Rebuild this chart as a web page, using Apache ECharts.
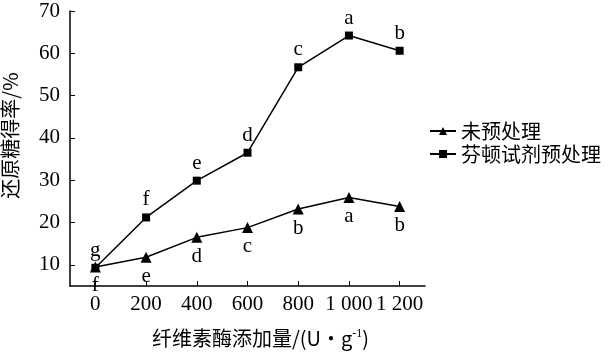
<!DOCTYPE html>
<html>
<head>
<meta charset="utf-8">
<script src="https://cdn.jsdelivr.net/npm/echarts@6/dist/echarts.min.js"></script>
<style>
  html, body { margin: 0; padding: 0; background: #fff; }
  #chart { width: 609px; height: 354px; }
</style>
</head>
<body>
<div id="chart"></div>
<script>
const doses = [0, 200, 400, 600, 800, 1000, 1200];
const untreated = [9.5, 11.8, 16.5, 18.8, 23.2, 25.9, 23.8];
const fenton = [9.3, 21.2, 29.9, 36.5, 56.7, 64.2, 60.6];
const untreatedLetters = ['f', 'e', 'd', 'c', 'b', 'a', 'b'];
const fentonLetters = ['g', 'f', 'e', 'd', 'c', 'a', 'b'];
const yTicks = [10, 20, 30, 40, 50, 60, 70];

const serif = '"Liberation Serif", "Times New Roman", serif';
const cjk = '"Noto Sans CJK SC", serif';

// 千位用空格分隔，如 1 000
const fmtDose = v => v >= 1000 ? Math.floor(v / 1000) + ' ' + String(v % 1000).padStart(3, '0') : String(v);

const chart = echarts.init(document.getElementById('chart'));

const makeSeries = (name, values, letters, symbol, size, pos) => ({
  name: name,
  type: 'line',
  data: doses.map((d, i) => [d, values[i]]),
  symbol: symbol,
  symbolSize: size,
  lineStyle: { color: '#000', width: 1.5 },
  itemStyle: { color: '#000' },
  label: {
    show: true,
    position: pos,
    distance: 3,
    fontFamily: serif,
    fontSize: 21,
    color: '#000',
    formatter: p => letters[p.dataIndex]
  },
  animation: false
});

chart.setOption({
  backgroundColor: '#fff',
  grid: { left: 70, right: 184, top: 11, bottom: 68, outerBoundsMode: 'none' },
  legend: {
    orient: 'vertical',
    left: 424,
    top: 116,
    itemWidth: 26,
    itemHeight: 10,
    itemGap: 3,
    textStyle: { fontFamily: cjk, fontSize: 20, color: '#000' },
    data: ['未预处理', '芬顿试剂预处理']
  },
  xAxis: {
    type: 'value',
    min: -100,
    max: 1300,
    name: '纤维素酶添加量/(U\u2022g{sup|-1})',
    nameLocation: 'middle',
    nameGap: 42,
    nameTextStyle: {
      fontFamily: cjk,
      fontSize: 20,
      color: '#000',
      padding: [0, 0, 0, 26],
      rich: { sup: { fontSize: 12, verticalAlign: 'top', padding: [0, 0, 8, 0], fontFamily: serif } }
    },
    splitLine: { show: false },
    axisLine: { onZero: false, lineStyle: { color: '#000', width: 1.5 } },
    axisTick: { inside: true, length: 5, customValues: doses, lineStyle: { color: '#000' } },
    axisLabel: {
      customValues: doses,
      formatter: fmtDose,
      fontFamily: serif,
      fontSize: 21,
      color: '#000',
      margin: 8
    }
  },
  yAxis: {
    type: 'value',
    min: 5,
    max: 70,
    name: '还原糖得率/%',
    nameLocation: 'middle',
    nameGap: 50,
    nameTextStyle: { fontFamily: cjk, fontSize: 20, color: '#000', padding: [0, 0, 0, 26] },
    splitLine: { show: false },
    axisLine: { show: true, onZero: false, lineStyle: { color: '#000', width: 1.5 } },
    axisTick: { show: true, inside: true, length: 5, customValues: yTicks, lineStyle: { color: '#000' } },
    axisLabel: {
      customValues: yTicks,
      fontFamily: serif,
      fontSize: 21,
      color: '#000',
      margin: 10
    }
  },
  series: [
    makeSeries('未预处理', untreated, untreatedLetters, 'triangle', 11, 'bottom'),
    makeSeries('芬顿试剂预处理', fenton, fentonLetters, 'rect', 8, 'top')
  ]
});
</script>
</body>
</html>
